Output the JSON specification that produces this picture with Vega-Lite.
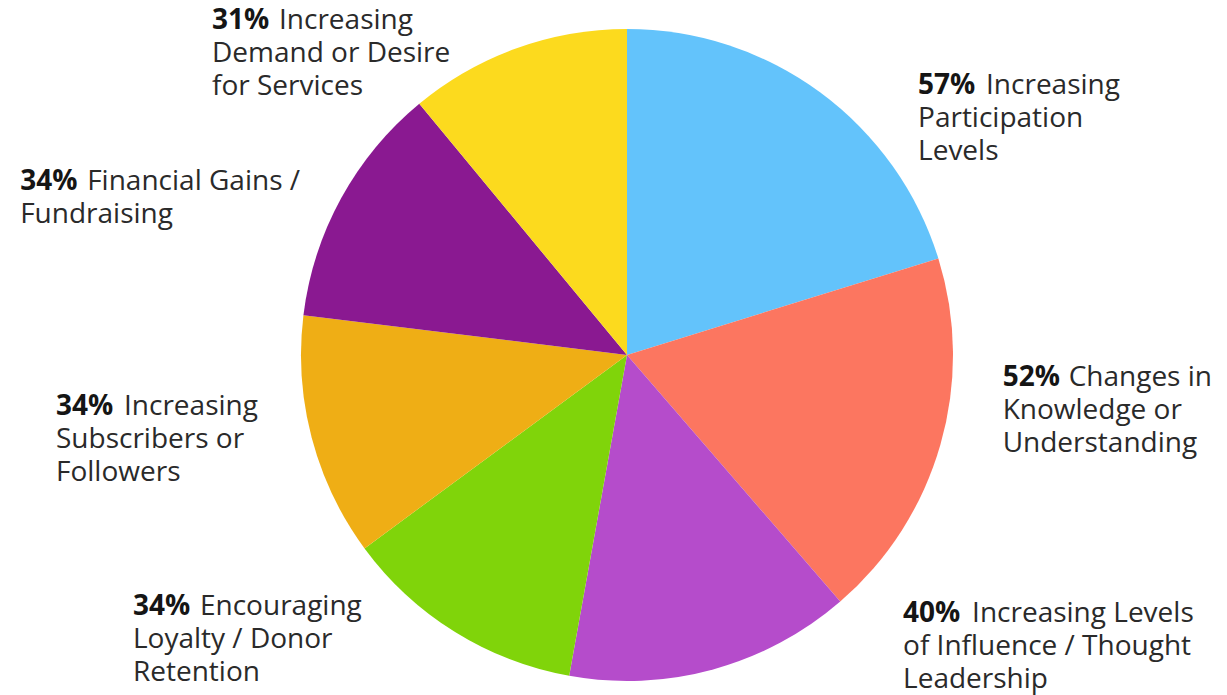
{
  "$schema": "https://vega.github.io/schema/vega-lite/v6.json",
  "width": 1200,
  "height": 680,
  "autosize": "none",
  "padding": {"left": 27, "top": 15, "right": 0, "bottom": 0},
  "background": "white",
  "config": {"view": {"stroke": null}},
  "data": {
    "values": [
      {"idx": 1, "cat": "Increasing Participation Levels", "value": 57, "pct": "57%", "first": "Increasing", "rest": ["Participation", "Levels"]},
      {"idx": 2, "cat": "Changes in Knowledge or Understanding", "value": 52, "pct": "52%", "first": "Changes in", "rest": ["Knowledge or", "Understanding"]},
      {"idx": 3, "cat": "Increasing Levels of Influence / Thought Leadership", "value": 40, "pct": "40%", "first": "Increasing Levels", "rest": ["of Influence / Thought", "Leadership"]},
      {"idx": 4, "cat": "Encouraging Loyalty / Donor Retention", "value": 34, "pct": "34%", "first": "Encouraging", "rest": ["Loyalty / Donor", "Retention"]},
      {"idx": 5, "cat": "Increasing Subscribers or Followers", "value": 34, "pct": "34%", "first": "Increasing", "rest": ["Subscribers or", "Followers"]},
      {"idx": 6, "cat": "Financial Gains / Fundraising", "value": 34, "pct": "34%", "first": "Financial Gains /", "rest": ["Fundraising"]},
      {"idx": 7, "cat": "Increasing Demand or Desire for Services", "value": 31, "pct": "31%", "first": "Increasing", "rest": ["Demand or Desire", "for Services"]}
    ]
  },
  "transform": [
    {"stack": "value", "groupby": [], "sort": [{"field": "idx", "order": "ascending"}], "as": ["v0", "v1"]}
  ],
  "encoding": {
    "theta": {"field": "v1", "type": "quantitative", "stack": null, "scale": {"zero": true}}
  },
  "layer": [
    {
      "mark": {"type": "arc", "radius": 326, "stroke": null},
      "encoding": {
        "theta2": {"field": "v0"},
        "color": {
          "field": "cat", "type": "nominal", "legend": null,
          "scale": {
            "domain": ["Increasing Participation Levels", "Changes in Knowledge or Understanding", "Increasing Levels of Influence / Thought Leadership", "Encouraging Loyalty / Donor Retention", "Increasing Subscribers or Followers", "Financial Gains / Fundraising", "Increasing Demand or Desire for Services"],
            "range": ["#63C3FB", "#FC7660", "#B54CCB", "#80D40A", "#EFAE15", "#8A1991", "#FCDA1E"]
          }
        }
      }
    },
    {"transform": [{"filter": "datum.idx == 1"}], "mark": {"type": "text", "radius": 400, "align": "left", "baseline": "alphabetic", "font": "Open Sans", "fontSize": 28, "fontWeight": "bold", "color": "#151515", "dx": -91, "dy": -142}, "encoding": {"text": {"field": "pct"}}},
    {"transform": [{"filter": "datum.idx == 1"}], "mark": {"type": "text", "radius": 400, "align": "left", "baseline": "alphabetic", "font": "Open Sans", "fontSize": 28, "color": "#2a2a2a", "dx": -23, "dy": -142}, "encoding": {"text": {"field": "first"}}},
    {"transform": [{"filter": "datum.idx == 1"}], "mark": {"type": "text", "radius": 400, "align": "left", "baseline": "alphabetic", "font": "Open Sans", "fontSize": 28, "lineHeight": 33, "color": "#2a2a2a", "dx": -91, "dy": -109}, "encoding": {"text": {"field": "rest"}}},

    {"transform": [{"filter": "datum.idx == 2"}], "mark": {"type": "text", "radius": 400, "align": "left", "baseline": "alphabetic", "font": "Open Sans", "fontSize": 28, "fontWeight": "bold", "color": "#151515", "dx": 114, "dy": -272}, "encoding": {"text": {"field": "pct"}}},
    {"transform": [{"filter": "datum.idx == 2"}], "mark": {"type": "text", "radius": 400, "align": "left", "baseline": "alphabetic", "font": "Open Sans", "fontSize": 28, "color": "#2a2a2a", "dx": 180, "dy": -272}, "encoding": {"text": {"field": "first"}}},
    {"transform": [{"filter": "datum.idx == 2"}], "mark": {"type": "text", "radius": 400, "align": "left", "baseline": "alphabetic", "font": "Open Sans", "fontSize": 28, "lineHeight": 33, "color": "#2a2a2a", "dx": 114, "dy": -239}, "encoding": {"text": {"field": "rest"}}},

    {"transform": [{"filter": "datum.idx == 3"}], "mark": {"type": "text", "radius": 400, "align": "left", "baseline": "alphabetic", "font": "Open Sans", "fontSize": 28, "fontWeight": "bold", "color": "#151515", "dx": 347, "dy": -127}, "encoding": {"text": {"field": "pct"}}},
    {"transform": [{"filter": "datum.idx == 3"}], "mark": {"type": "text", "radius": 400, "align": "left", "baseline": "alphabetic", "font": "Open Sans", "fontSize": 28, "color": "#2a2a2a", "dx": 416, "dy": -127}, "encoding": {"text": {"field": "first"}}},
    {"transform": [{"filter": "datum.idx == 3"}], "mark": {"type": "text", "radius": 400, "align": "left", "baseline": "alphabetic", "font": "Open Sans", "fontSize": 28, "lineHeight": 33, "color": "#2a2a2a", "dx": 347, "dy": -94}, "encoding": {"text": {"field": "rest"}}},

    {"transform": [{"filter": "datum.idx == 4"}], "mark": {"type": "text", "radius": 400, "align": "left", "baseline": "alphabetic", "font": "Open Sans", "fontSize": 28, "fontWeight": "bold", "color": "#151515", "dx": -172, "dy": 23}, "encoding": {"text": {"field": "pct"}}},
    {"transform": [{"filter": "datum.idx == 4"}], "mark": {"type": "text", "radius": 400, "align": "left", "baseline": "alphabetic", "font": "Open Sans", "fontSize": 28, "color": "#2a2a2a", "dx": -105, "dy": 23}, "encoding": {"text": {"field": "first"}}},
    {"transform": [{"filter": "datum.idx == 4"}], "mark": {"type": "text", "radius": 400, "align": "left", "baseline": "alphabetic", "font": "Open Sans", "fontSize": 28, "lineHeight": 33, "color": "#2a2a2a", "dx": -172, "dy": 56}, "encoding": {"text": {"field": "rest"}}},

    {"transform": [{"filter": "datum.idx == 5"}], "mark": {"type": "text", "radius": 400, "align": "left", "baseline": "alphabetic", "font": "Open Sans", "fontSize": 28, "fontWeight": "bold", "color": "#151515", "dx": -174, "dy": 109}, "encoding": {"text": {"field": "pct"}}},
    {"transform": [{"filter": "datum.idx == 5"}], "mark": {"type": "text", "radius": 400, "align": "left", "baseline": "alphabetic", "font": "Open Sans", "fontSize": 28, "color": "#2a2a2a", "dx": -106, "dy": 109}, "encoding": {"text": {"field": "first"}}},
    {"transform": [{"filter": "datum.idx == 5"}], "mark": {"type": "text", "radius": 400, "align": "left", "baseline": "alphabetic", "font": "Open Sans", "fontSize": 28, "lineHeight": 33, "color": "#2a2a2a", "dx": -174, "dy": 142}, "encoding": {"text": {"field": "rest"}}},

    {"transform": [{"filter": "datum.idx == 6"}], "mark": {"type": "text", "radius": 400, "align": "left", "baseline": "alphabetic", "font": "Open Sans", "fontSize": 28, "fontWeight": "bold", "color": "#151515", "dx": -352, "dy": 143}, "encoding": {"text": {"field": "pct"}}},
    {"transform": [{"filter": "datum.idx == 6"}], "mark": {"type": "text", "radius": 400, "align": "left", "baseline": "alphabetic", "font": "Open Sans", "fontSize": 28, "color": "#2a2a2a", "dx": -285, "dy": 143}, "encoding": {"text": {"field": "first"}}},
    {"transform": [{"filter": "datum.idx == 6"}], "mark": {"type": "text", "radius": 400, "align": "left", "baseline": "alphabetic", "font": "Open Sans", "fontSize": 28, "lineHeight": 33, "color": "#2a2a2a", "dx": -352, "dy": 176}, "encoding": {"text": {"field": "rest"}}},

    {"transform": [{"filter": "datum.idx == 7"}], "mark": {"type": "text", "radius": 400, "align": "left", "baseline": "alphabetic", "font": "Open Sans", "fontSize": 28, "fontWeight": "bold", "color": "#151515", "dx": -415, "dy": 74}, "encoding": {"text": {"field": "pct"}}},
    {"transform": [{"filter": "datum.idx == 7"}], "mark": {"type": "text", "radius": 400, "align": "left", "baseline": "alphabetic", "font": "Open Sans", "fontSize": 28, "color": "#2a2a2a", "dx": -348, "dy": 74}, "encoding": {"text": {"field": "first"}}},
    {"transform": [{"filter": "datum.idx == 7"}], "mark": {"type": "text", "radius": 400, "align": "left", "baseline": "alphabetic", "font": "Open Sans", "fontSize": 28, "lineHeight": 33, "color": "#2a2a2a", "dx": -415, "dy": 107}, "encoding": {"text": {"field": "rest"}}}
  ]
}
